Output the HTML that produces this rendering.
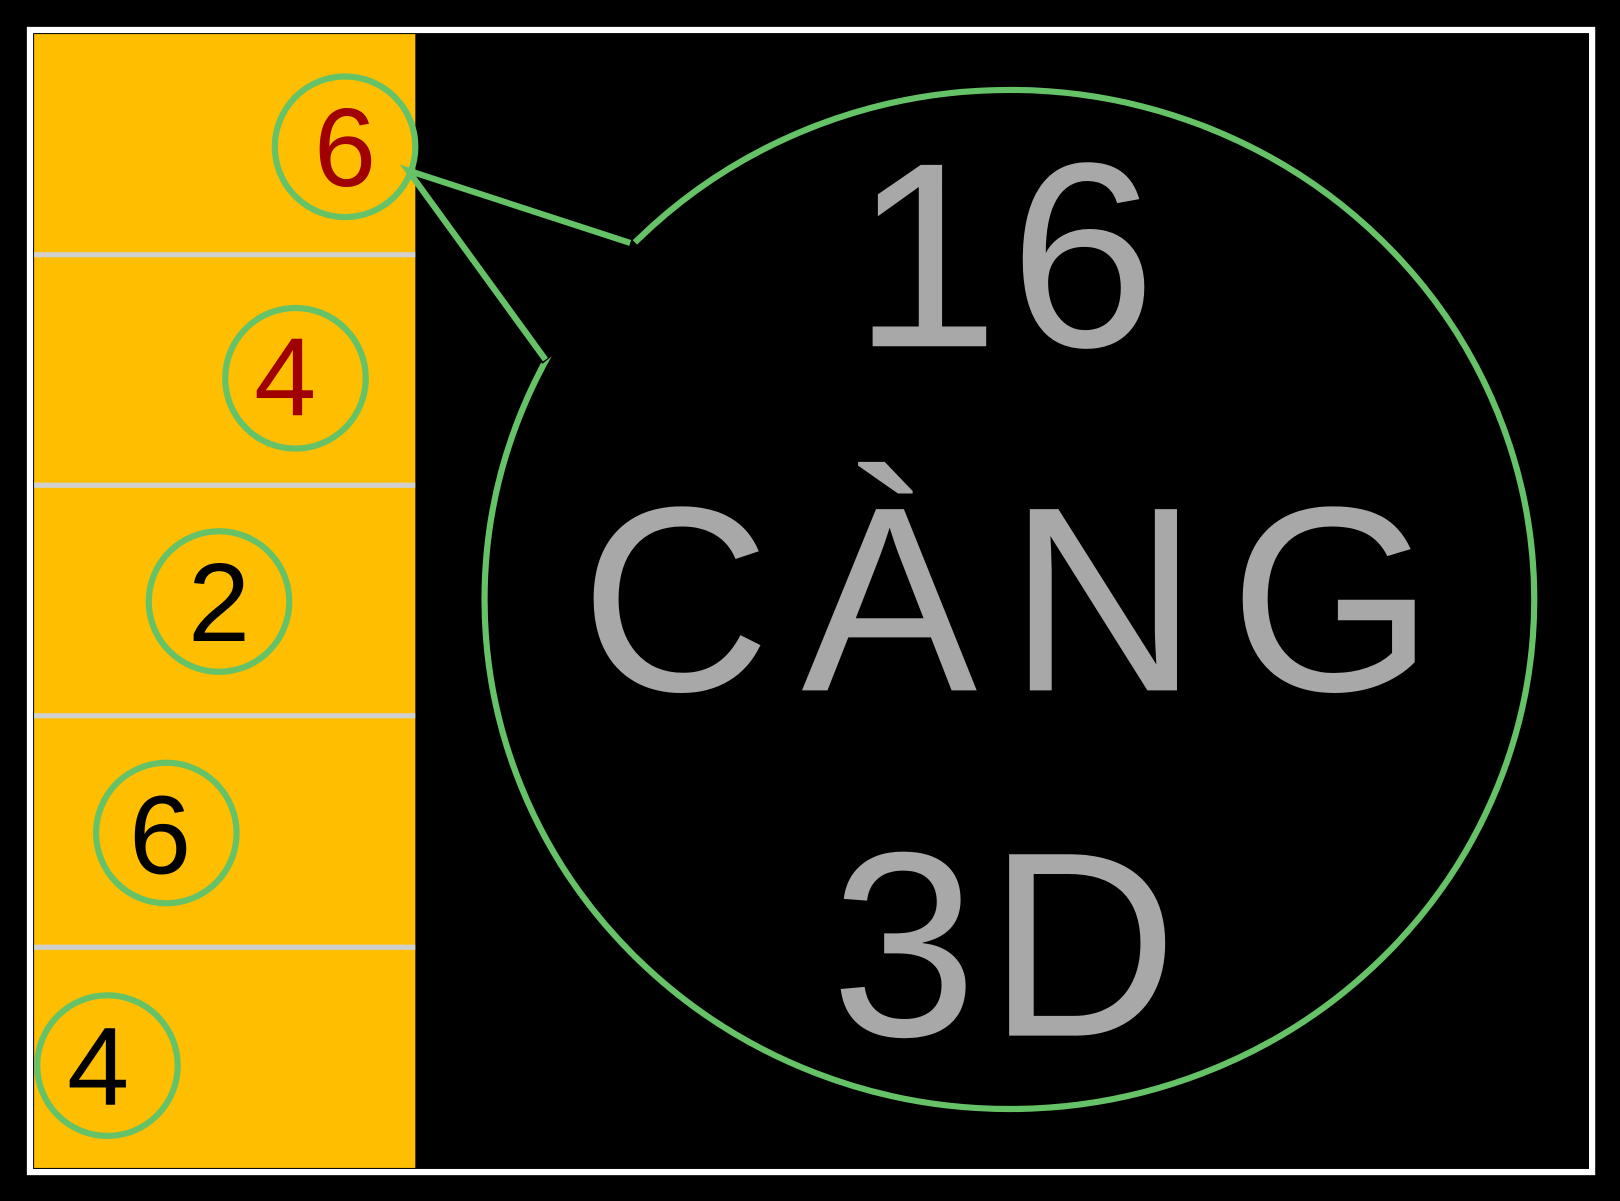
<!DOCTYPE html>
<html><head><meta charset="utf-8"><style>html,body{margin:0;padding:0;background:#000;}svg{display:block}</style></head>
<body>
<svg width="1620" height="1201" viewBox="0 0 1568 1162" preserveAspectRatio="none" xmlns="http://www.w3.org/2000/svg">
<rect x="0" y="0" width="1568" height="1162" fill="#000"/>
<rect x="29" y="29" width="1512" height="1105" fill="#000" stroke="#fff" stroke-width="6"/>
<rect x="33" y="33" width="369" height="1097" fill="#ffbe00"/>
<g fill="#d0d0d0">
<rect x="33" y="244" width="369" height="5"/>
<rect x="33" y="467" width="369" height="5"/>
<rect x="33" y="690" width="369" height="5"/>
<rect x="33" y="914" width="369" height="5"/>
</g>
<g fill="none" stroke="#66c266" stroke-width="6">
<circle cx="334" cy="142" r="68"/>
<circle cx="286" cy="366" r="68"/>
<circle cx="212" cy="582" r="68"/>
<circle cx="161" cy="806" r="68"/>
<circle cx="104" cy="1031" r="68"/>
<ellipse cx="977" cy="580" rx="508" ry="493"/>
</g>
<polygon points="612,232 395,165 525,352 540,340 622,242" fill="#000"/>
<polyline points="610,235 395,165 528,348" fill="none" stroke="#66c266" stroke-width="6" stroke-linejoin="miter"/>
<g font-family="Liberation Sans, sans-serif" font-size="108" text-anchor="middle">
<text x="334" y="180" fill="#a00000">6</text>
<text x="276" y="402" fill="#a00000">4</text>
<text x="212" y="620" fill="#000">2</text>
<text x="155" y="845" fill="#000">6</text>
<text x="95" y="1069" fill="#000">4</text>
</g>
<g font-family="Liberation Sans, sans-serif" font-size="255" fill="#a8a8a8" text-anchor="middle">
<text x="977" y="335" letter-spacing="10">16</text>
<text x="990" y="668" letter-spacing="30">CÀNG</text>
<text x="977" y="1002" letter-spacing="10">3D</text>
</g>
</svg>
</body></html>
